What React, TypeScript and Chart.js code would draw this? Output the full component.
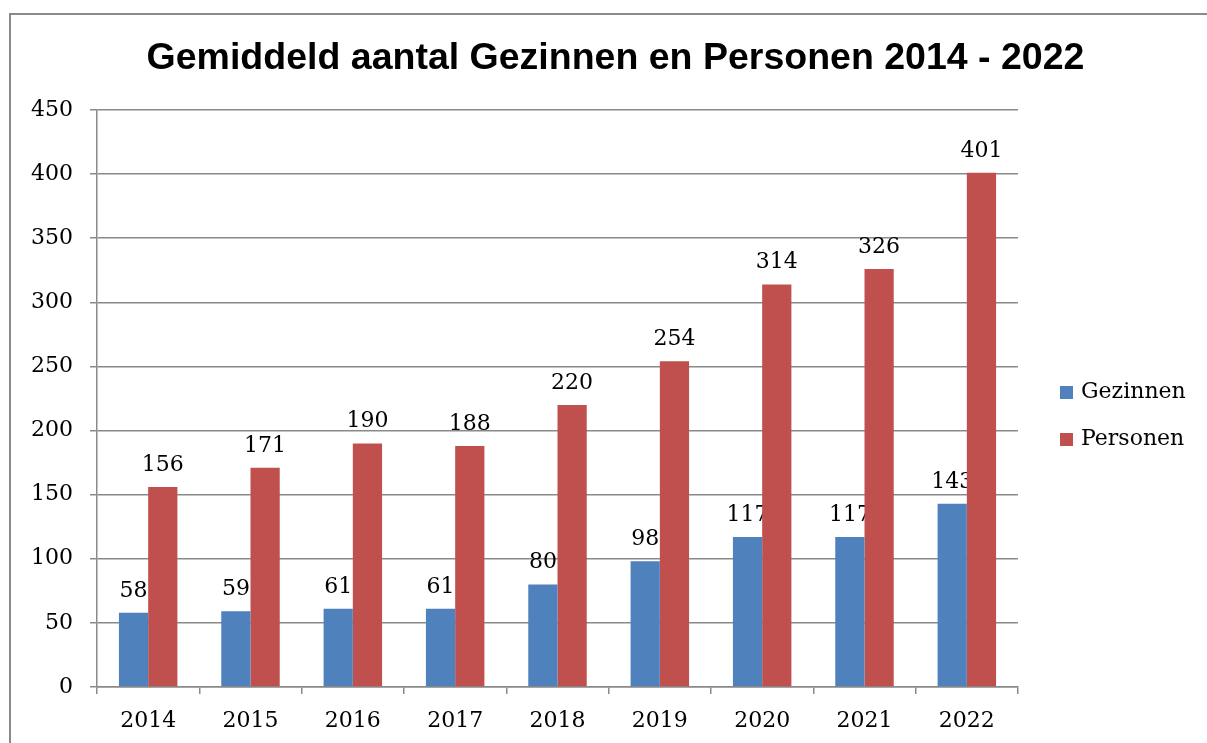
import React, { useEffect, useRef } from "react";
import { Chart, registerables } from "chart.js";

Chart.register(...registerables);

const categories = ["2014", "2015", "2016", "2017", "2018", "2019", "2020", "2021", "2022"];
const gezinnen = [58, 59, 61, 61, 80, 98, 117, 117, 143];
const personen = [156, 171, 190, 188, 220, 254, 314, 326, 401];
const seriesNames = ["Gezinnen", "Personen"];
const seriesColors = ["#4F81BD", "#C0504D"];
const yMin = 0;
const yMax = 450;
const yStep = 50;
const titleText = "Gemiddeld aantal Gezinnen en Personen 2014 - 2022";

const SERIF = "'DejaVu Serif', serif";
const GRID = "#8a8a8a";

const framePlugin = {
  id: "frame",
  beforeDraw(chart: any) {
    const ctx = chart.ctx;
    ctx.save();
    ctx.strokeStyle = "#8a8a8a";
    ctx.lineWidth = 2;
    ctx.strokeRect(10, 14, 1400, 900);
    ctx.restore();
  },
};

const valueLabelPlugin = {
  id: "valueLabels",
  beforeDatasetsDraw(chart: any) {
    const ctx = chart.ctx;
    ctx.save();
    ctx.font = `22px ${SERIF}`;
    ctx.fillStyle = "#000";
    ctx.textAlign = "center";
    ctx.textBaseline = "alphabetic";
    chart.data.datasets.forEach((ds: any, i: number) => {
      const meta = chart.getDatasetMeta(i);
      meta.data.forEach((el: any, j: number) => {
        ctx.fillText(String(ds.data[j]), el.x, el.y - 16);
      });
    });
    ctx.restore();
  },
};

const legendPlugin = {
  id: "customLegend",
  afterDraw(chart: any) {
    const ctx = chart.ctx;
    const area = chart.chartArea;
    const x = area.right + 42;
    const yMid = (area.top + area.bottom) / 2 - 6;
    ctx.save();
    ctx.font = `22px ${SERIF}`;
    ctx.textAlign = "left";
    ctx.textBaseline = "middle";
    chart.data.datasets.forEach((ds: any, i: number) => {
      const cy = yMid + i * 47;
      ctx.fillStyle = ds.backgroundColor;
      ctx.fillRect(x, cy - 6.5, 13, 13);
      ctx.fillStyle = "#000";
      ctx.fillText(ds.label, x + 21, cy);
    });
    ctx.restore();
  },
};

export default function App() {
  const canvasRef = useRef<HTMLCanvasElement | null>(null);

  useEffect(() => {
    if (!canvasRef.current) return;
    const chart = new Chart(canvasRef.current, {
      type: "bar",
      data: {
        labels: categories,
        datasets: [
          { label: seriesNames[0], data: gezinnen, backgroundColor: seriesColors[0], borderWidth: 0 },
          { label: seriesNames[1], data: personen, backgroundColor: seriesColors[1], borderWidth: 0 },
        ],
      },
      options: {
        responsive: false,
        animation: false,
        devicePixelRatio: 1,
        categoryPercentage: 2 / 3.5,
        barPercentage: 1,
        layout: { padding: { left: 24, right: 0, top: 0, bottom: 0 } },
        plugins: {
          legend: { display: false },
          tooltip: { enabled: false },
          title: {
            display: true,
            text: titleText,
            color: "#000",
            font: { family: "'Liberation Sans', Arial, sans-serif", size: 37.5, weight: "bold" },
            padding: { top: 36, bottom: 29 },
          },
        },
        scales: {
          x: {
            type: "category",
            grid: {
              display: true,
              drawOnChartArea: false,
              drawTicks: true,
              tickLength: 7,
              color: GRID,
              lineWidth: 1.5,
              offset: true,
            },
            border: { display: true, color: GRID, width: 1.5 },
            ticks: { color: "#000", font: { family: SERIF, size: 22 }, padding: 14, maxRotation: 0 },
            afterFit: (s: any) => {
              s.height = 56;
            },
          },
          y: {
            type: "linear",
            position: "left",
            min: yMin,
            max: yMax,
            ticks: { stepSize: yStep, color: "#000", font: { family: SERIF, size: 22 }, padding: 17 },
            grid: { color: GRID, tickLength: 7, drawTicks: true, lineWidth: 1.5 },
            border: { display: true, color: GRID, width: 1.5 },
            afterFit: (s: any) => {
              s.width = 73;
            },
          },
          yLegendSpace: {
            type: "linear",
            position: "right",
            display: true,
            grid: { display: false },
            ticks: { display: false },
            border: { display: false },
            afterFit: (s: any) => {
              s.width = 189;
            },
          },
        },
      } as any,
      plugins: [framePlugin, valueLabelPlugin, legendPlugin],
    });
    return () => chart.destroy();
  }, []);

  return (
    <div style={{ position: "fixed", left: 0, top: 0, width: 1207, height: 743, background: "#fff" }}>
      <canvas ref={canvasRef} width={1207} height={743} />
    </div>
  );
}
